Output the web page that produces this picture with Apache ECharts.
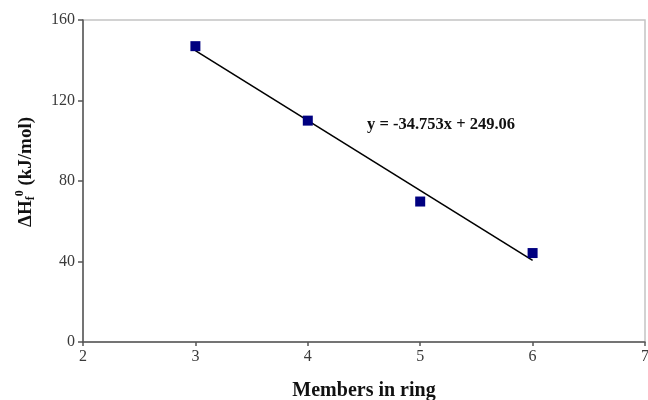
<!DOCTYPE html>
<html>
<head>
<meta charset="utf-8">
<script src="https://cdn.jsdelivr.net/npm/echarts@6/dist/echarts.min.js"></script>
<style>
  html, body { margin: 0; padding: 0; background: #fff; }
  #chart { width: 648px; height: 400px; }
</style>
</head>
<body>
<div id="chart"></div>
<script>
// Ring size vs. standard enthalpy of formation
const ringMembers = [3, 4, 5, 6];
const enthalpy = [147.0, 110.0, 69.8, 44.2];

// Linear fit reported on the chart
const fitSlope = -34.753;
const fitIntercept = 249.06;
const fitLabel = 'y = -34.753x + 249.06';

const xTicks = { min: 2, max: 7, interval: 1 };
const yTicks = { min: 0, max: 160, interval: 40 };

const points = ringMembers.map((x, i) => [x, enthalpy[i]]);
const fitX = [ringMembers[0], ringMembers[ringMembers.length - 1]];
const fitLine = fitX.map(x => [x, fitSlope * x + fitIntercept]);

const serif = '"Liberation Serif", "Times New Roman", serif';

const chart = echarts.init(document.getElementById('chart'));
chart.setOption({
  animation: false,
  backgroundColor: '#fff',
  grid: { left: 83, right: 3, top: 20, bottom: 58, show: true,
          outerBoundsMode: 'none', containLabel: false,
          borderColor: '#c4c4c4', borderWidth: 1.5, backgroundColor: 'transparent' },
  xAxis: {
    type: 'value', min: xTicks.min, max: xTicks.max, interval: xTicks.interval,
    name: 'Members in ring', nameLocation: 'middle', nameGap: 39,
    nameTextStyle: { fontFamily: serif, fontWeight: 'bold', fontSize: 20, color: '#111' },
    axisLine: { show: true, onZero: false, lineStyle: { color: '#555', width: 1.5 } },
    axisTick: { show: true, length: 4, lineStyle: { color: '#555', width: 1.5 } },
    axisLabel: { fontFamily: serif, fontSize: 16, color: '#3a3a3a', margin: 7 },
    splitLine: { show: false }
  },
  yAxis: {
    type: 'value', min: yTicks.min, max: yTicks.max, interval: yTicks.interval,
    name: '{b|ΔH}{s|f}{p|0}{b| (kJ/mol)}', nameLocation: 'middle', nameGap: 44, nameRotate: 90,
    nameTextStyle: {
      padding: [0, 0, 0, 18],
      rich: {
        b: { fontFamily: serif, fontWeight: 'bold', fontSize: 19, color: '#111' },
        s: { fontFamily: serif, fontWeight: 'bold', fontSize: 12, color: '#111', padding: [8, 0, 0, 0] },
        p: { fontFamily: serif, fontWeight: 'bold', fontSize: 12, color: '#111', padding: [0, 0, 13, 0] }
      }
    },
    axisLine: { show: true, onZero: false, lineStyle: { color: '#555', width: 1.5 } },
    axisTick: { show: true, length: 5, lineStyle: { color: '#555', width: 1.5 } },
    axisLabel: { fontFamily: serif, fontSize: 16, color: '#3a3a3a', margin: 8 },
    splitLine: { show: false }
  },
  series: [
    {
      type: 'line', data: fitLine, showSymbol: false, symbol: 'none',
      lineStyle: { color: '#000', width: 1.6 }, z: 2
    },
    {
      type: 'scatter', data: points, symbol: 'rect', symbolSize: 10,
      itemStyle: { color: '#000080', opacity: 1 }, z: 3
    }
  ],
  graphic: [
    {
      type: 'text', left: 367, top: 116,
      style: { text: fitLabel, font: 'bold 16.5px ' + serif, fill: '#111' }
    }
  ]
});
</script>
</body>
</html>
